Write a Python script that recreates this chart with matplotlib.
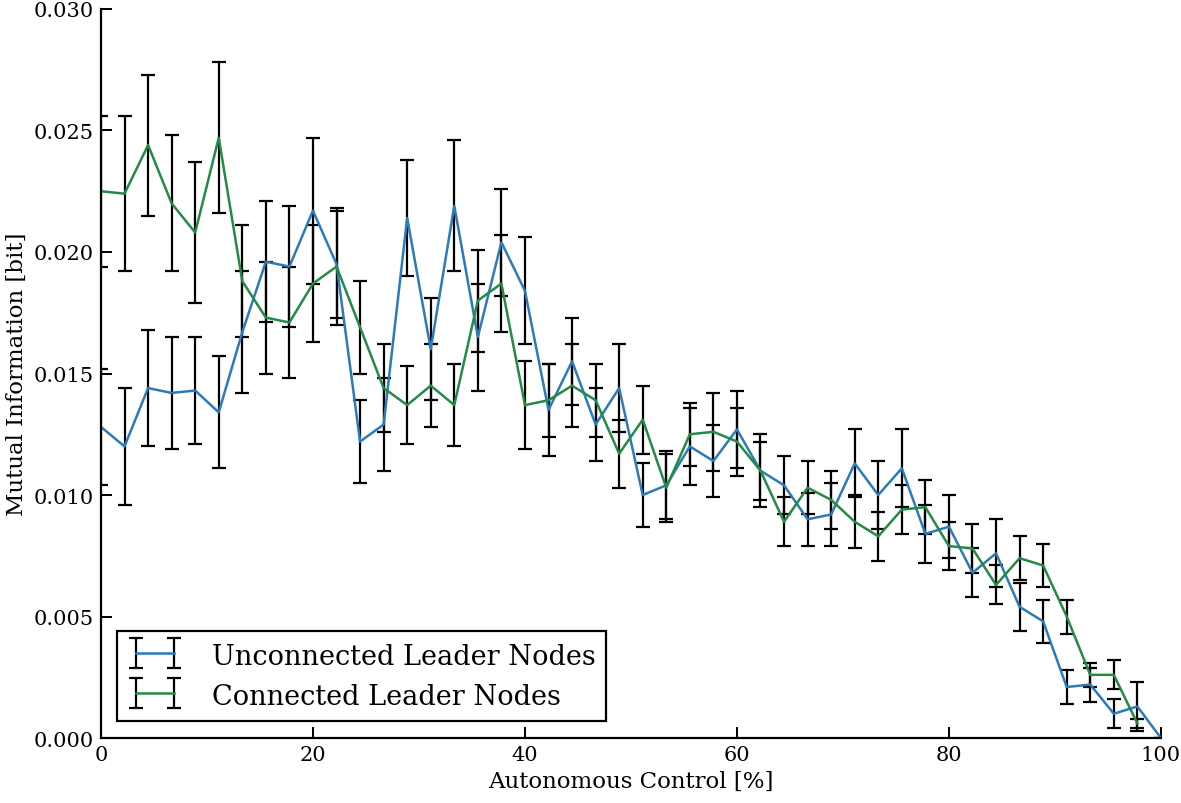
import numpy as np
import matplotlib
matplotlib.use("Agg")
from matplotlib import pyplot as plt
from matplotlib.container import ErrorbarContainer
from matplotlib.legend_handler import HandlerErrorbar

plt.rcParams['font.family'] = ['DejaVu Serif']

# autonomous control grid (46 steps, 0..100 %)
autonomy = np.linspace(0, 100, 46)

# unconnected leader nodes
mi_unconn = [0.0128, 0.0120, 0.0144, 0.0142, 0.0143, 0.0134, 0.0167, 0.0196,
             0.0194, 0.0217, 0.0195, 0.0122, 0.0129, 0.0214, 0.0160, 0.0219,
             0.0165, 0.0204, 0.0184, 0.0135, 0.0155, 0.0129, 0.0144, 0.0100,
             0.0104, 0.0120, 0.0114, 0.0127, 0.0110, 0.0104, 0.0090, 0.0092,
             0.0113, 0.0100, 0.0111, 0.0084, 0.0087, 0.0068, 0.0076, 0.0054,
             0.0048, 0.0021, 0.0022, 0.0010, 0.0013, 0.0000]
err_unconn = [0.0024, 0.0024, 0.0024, 0.0023, 0.0022, 0.0023, 0.0025, 0.0025,
              0.0025, 0.0030, 0.0022, 0.0017, 0.0019, 0.0024, 0.0021, 0.0027,
              0.0022, 0.0022, 0.0022, 0.0019, 0.0018, 0.0015, 0.0018, 0.0013,
              0.0014, 0.0016, 0.0015, 0.0016, 0.0015, 0.0012, 0.0011, 0.0013,
              0.0014, 0.0014, 0.0016, 0.0012, 0.0013, 0.0010, 0.0014, 0.0010,
              0.0009, 0.0007, 0.0007, 0.0006, 0.0010, 0.0000]

# connected leader nodes (no value at 100 %)
mi_conn = [0.0225, 0.0224, 0.0244, 0.0220, 0.0208, 0.0247, 0.0188, 0.0173,
           0.0171, 0.0187, 0.0194, 0.0169, 0.0144, 0.0137, 0.0145, 0.0137,
           0.0180, 0.0187, 0.0137, 0.0139, 0.0145, 0.0139, 0.0117, 0.0131,
           0.0103, 0.0125, 0.0126, 0.0122, 0.0110, 0.0089, 0.0103, 0.0098,
           0.0089, 0.0083, 0.0094, 0.0095, 0.0079, 0.0078, 0.0063, 0.0074,
           0.0071, 0.0050, 0.0026, 0.0026, 0.0006, np.nan]
err_conn = [0.0031, 0.0032, 0.0029, 0.0028, 0.0029, 0.0031, 0.0023, 0.0023,
            0.0023, 0.0024, 0.0024, 0.0019, 0.0018, 0.0016, 0.0017, 0.0017,
            0.0021, 0.0020, 0.0018, 0.0015, 0.0017, 0.0015, 0.0014, 0.0014,
            0.0014, 0.0013, 0.0016, 0.0014, 0.0012, 0.0010, 0.0011, 0.0012,
            0.0011, 0.0010, 0.0010, 0.0011, 0.0010, 0.0010, 0.0008, 0.0009,
            0.0009, 0.0007, 0.0005, 0.0006, 0.0002, np.nan]

fig = plt.figure(figsize=(11.81, 8.04), dpi=100)
ax = fig.add_axes([0.0855, 0.0808, 0.8975, 0.9068])

kw = dict(ecolor='k', elinewidth=1.6, capsize=5, capthick=1.6, lw=1.8)
ax.errorbar(autonomy, mi_unconn, yerr=err_unconn, color='#2b7bba',
            label='Unconnected Leader Nodes', **kw)
ax.errorbar(autonomy, mi_conn, yerr=err_conn, color='#238b45',
            label='Connected Leader Nodes', **kw)

ax.set_xlim(0, 100)
ax.set_ylim(0, 0.030)
ax.set_xticks([0, 20, 40, 60, 80, 100])
ax.set_yticks([0.000, 0.005, 0.010, 0.015, 0.020, 0.025, 0.030])
ax.set_yticklabels(['%.3f' % v for v in ax.get_yticks()])
ax.spines['top'].set_visible(False)
ax.spines['right'].set_visible(False)
for s in ('left', 'bottom'):
    ax.spines[s].set_linewidth(1.6)
ax.tick_params(direction='in', length=8, width=1.4, labelsize=15, pad=5,
               top=False, right=False)

ax.set_xlabel('Autonomous Control [%]', fontsize=16.5, labelpad=4)
ax.set_ylabel('Mutual Information [bit]', fontsize=16.5, labelpad=4)

leg = ax.legend(loc='lower left', fontsize=19.5, frameon=True, fancybox=False,
                framealpha=1, edgecolor='k', numpoints=2, handlelength=2.0,
                handleheight=1.1, handletextpad=1.1, borderpad=0.4,
                labelspacing=0.45, borderaxespad=0,
                bbox_to_anchor=(0.0151, 0.0233),
                handler_map={ErrorbarContainer: HandlerErrorbar(yerr_size=0.56)})
leg.get_frame().set_linewidth(1.6)

fig.savefig('out.png', dpi=100)
